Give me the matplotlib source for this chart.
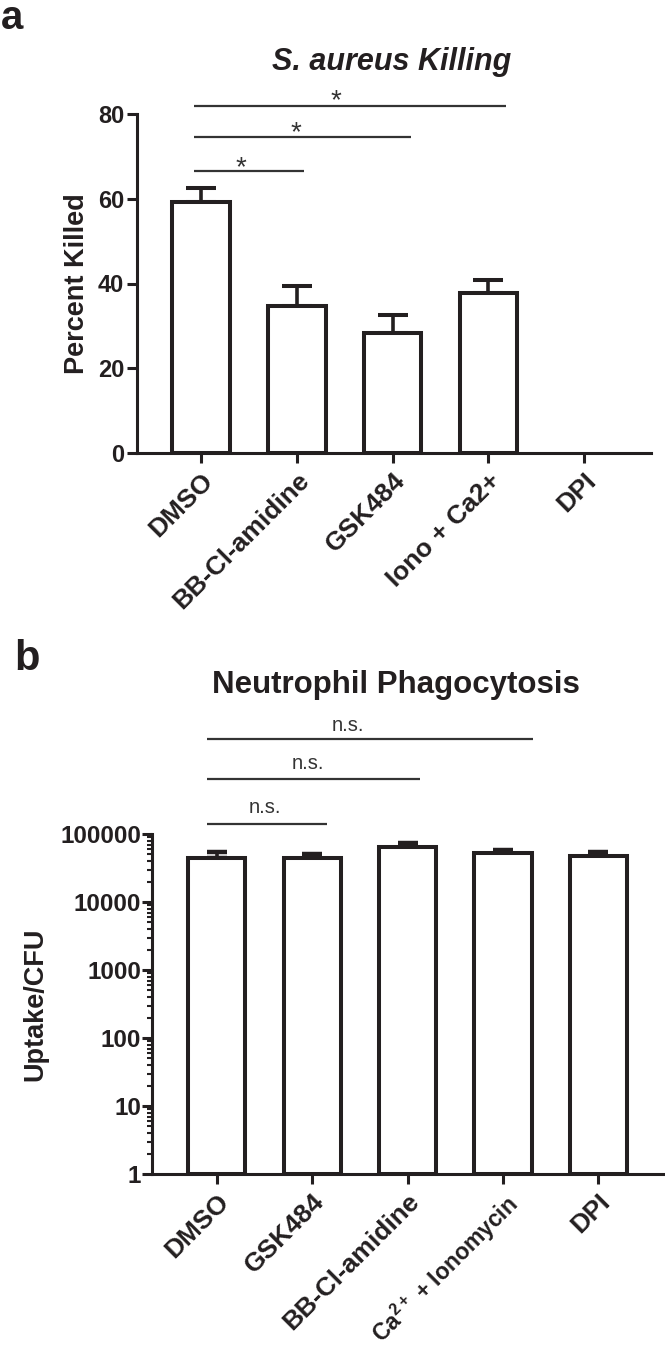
import matplotlib
matplotlib.use("Agg")
import matplotlib.pyplot as plt
import matplotlib.transforms as mtransforms
import numpy as np

plt.rcParams['font.family'] = ['Liberation Sans', 'DejaVu Sans']
plt.rcParams['mathtext.fontset'] = 'custom'
plt.rcParams['mathtext.rm'] = 'Liberation Sans'
plt.rcParams['mathtext.it'] = 'Liberation Sans:italic'
plt.rcParams['mathtext.bf'] = 'Liberation Sans:bold'

# ---------------- data ----------------
a_categories = ["DMSO", "BB-Cl-amidine", "GSK484", "Iono + Ca2+", "DPI"]
a_values = [59.2, 34.7, 28.3, 37.7, 0.0]
a_err = [3.3, 4.7, 4.2, 3.1, 0.0]
a_sig_ends = [1.07, 2.19, 3.19]
a_sig_labels = ["*", "*", "*"]

b_categories = ["DMSO", "GSK484", "BB-Cl-amidine",
                r"Ca$^{\mathregular{2+}}$ + Ionomycin", "DPI"]
b_values = [45000, 44400, 64500, 52600, 47500]
b_err = [9000, 6400, 9100, 5600, 6800]
b_sig_ends = [1.16, 2.13, 3.32]
b_sig_labels = ["n.s.", "n.s.", "n.s."]

INK = '#231f20'
W, H = 665, 1349
fig = plt.figure(figsize=(W / 100, H / 100), dpi=100)


def px_axes(left, right, top, bottom):
    return fig.add_axes([left / W, 1 - bottom / H, (right - left) / W, (bottom - top) / H])


def fy(px):
    return 1 - px / H


def style_axes(ax, ysize):
    for s in ['top', 'right']:
        ax.spines[s].set_visible(False)
    for s in ['left', 'bottom']:
        ax.spines[s].set_linewidth(2.2)
        ax.spines[s].set_color(INK)
    ax.tick_params(axis='both', which='major', direction='out', length=7.2,
                   width=2.2, color=INK, labelcolor=INK)
    ax.tick_params(axis='y', labelsize=ysize, pad=2)
    ax.tick_params(axis='x', labelsize=19, pad=4)
    for lab in ax.get_yticklabels():
        lab.set_fontweight('bold')


# ---------------- panel a ----------------
axa = px_axes(137, 651, 114, 453)
xa = np.arange(len(a_categories))
av = np.array(a_values)
ae = np.array(a_err)
mask = av > 0
axa.bar(xa[mask], av[mask], width=0.6, color='white', edgecolor=INK, linewidth=2.9, zorder=2)
axa.errorbar(xa[mask], av[mask], yerr=[np.zeros(mask.sum()), ae[mask]],
             fmt='none', ecolor=INK, elinewidth=2.6, capsize=10.5, capthick=2.9, zorder=1)
axa.set_xlim(-0.67, 4.70)
axa.set_ylim(0, 80)
axa.set_yticks([0, 20, 40, 60, 80])
axa.set_xticks(xa)
axa.set_xticklabels(a_categories, rotation=45, ha='right', rotation_mode='anchor',
                    fontweight='bold')
style_axes(axa, 17)
axa.set_ylabel("Percent Killed", fontsize=19.5, fontweight='bold', color=INK, labelpad=6)

ta = mtransforms.blended_transform_factory(axa.transData, fig.transFigure)
a_line_px = [171, 137, 106]
a_star_x = [0.42, 0.99, 1.41]
a_star_px = [159, 124, 92]
for end, lab, ly, sx, sy in zip(a_sig_ends, a_sig_labels, a_line_px, a_star_x, a_star_px):
    axa.plot([-0.07, end], [fy(ly), fy(ly)], transform=ta, color='#333333', lw=1.6,
             clip_on=False, solid_capstyle='butt')
    axa.text(sx, fy(sy + 16), lab, transform=ta, ha='center', va='baseline',
             fontsize=20, color='#333333')

fig.text(392 / W, fy(62), "S. aureus Killing", ha='center', va='center',
         fontsize=22, fontweight='bold', fontstyle='italic', color=INK)
fig.text(1 / W, fy(29), "a", ha='left', va='baseline', fontsize=29,
         fontweight='bold', color=INK)

# ---------------- panel b ----------------
axb = px_axes(152, 665, 834, 1174)
xb = np.arange(len(b_categories))
axb.set_yscale('log')
axb.bar(xb, b_values, width=0.6, bottom=1, color='white', edgecolor=INK,
        linewidth=2.9, zorder=2)
axb.errorbar(xb, b_values, yerr=[np.zeros(len(b_values)), b_err],
             fmt='none', ecolor=INK, elinewidth=2.6, capsize=7.5, capthick=3.2, zorder=1)
axb.set_xlim(-0.68, 4.70)
axb.set_ylim(1, 100000)
axb.set_yticks([1, 10, 100, 1000, 10000, 100000])
axb.set_yticklabels(["1", "10", "100", "1000", "10000", "100000"])
axb.yaxis.set_minor_locator(matplotlib.ticker.LogLocator(base=10, subs=np.arange(2, 10)))
axb.yaxis.set_minor_formatter(matplotlib.ticker.NullFormatter())
axb.set_xticks(xb)
axb.set_xticklabels(b_categories, rotation=45, ha='right', rotation_mode='anchor',
                    fontweight='bold')
style_axes(axb, 17.5)
axb.get_xticklabels()[3].set_fontsize(16.5)
axb.tick_params(axis='y', which='minor', direction='out', length=3.5, width=1.5, color=INK)
axb.tick_params(axis='y', which='major', pad=0.5)
axb.set_ylabel("Uptake/CFU", fontsize=19.5, fontweight='bold', color=INK, labelpad=9)

tb = mtransforms.blended_transform_factory(axb.transData, fig.transFigure)
b_line_px = [824, 779, 739]
b_text_x = [0.50, 0.96, 1.37]
b_text_px = [813, 769, 731]
for end, lab, ly, tx, tyy in zip(b_sig_ends, b_sig_labels, b_line_px, b_text_x, b_text_px):
    axb.plot([-0.10, end], [fy(ly), fy(ly)], transform=tb, color='#333333', lw=1.6,
             clip_on=False, solid_capstyle='butt')
    axb.text(tx, fy(tyy), lab, transform=tb, ha='center', va='baseline',
             fontsize=14.5, color='#333333')

fig.text(396 / W, fy(685), "Neutrophil Phagocytosis", ha='center', va='center',
         fontsize=22.5, fontweight='bold', color=INK)
fig.text(14 / W, fy(670), "b", ha='left', va='baseline', fontsize=30,
         fontweight='bold', color=INK)

fig.savefig("out.png", dpi=100)
